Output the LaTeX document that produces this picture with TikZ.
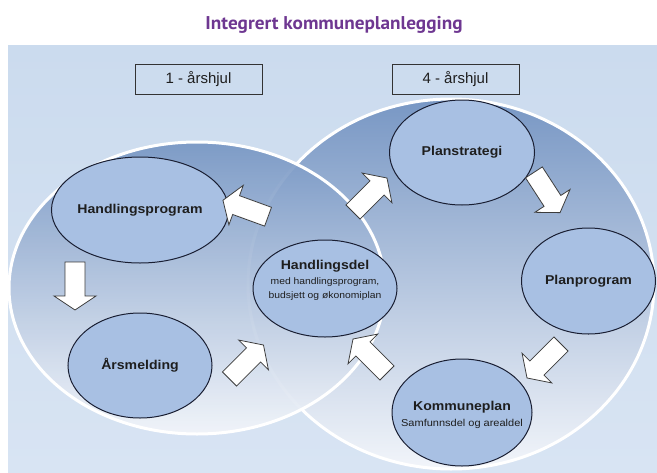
\documentclass[tikz,border=0pt]{standalone}
\usepackage{fontspec}
\setmainfont{Liberation Sans}
\newfontfamily\lblfont[FakeStretch=1.1]{Liberation Sans}
\newfontfamily\ttlfont[FakeStretch=1.04]{PT Sans}
\usetikzlibrary{shapes.geometric}
\definecolor{bgtop}{RGB}{203,219,238}
\definecolor{bgbot}{RGB}{216,228,243}
\definecolor{ctop}{RGB}{120,151,196}
\definecolor{cmid}{RGB}{165,189,222}
\definecolor{cbot}{RGB}{242,245,250}
\definecolor{ellfill}{RGB}{168,192,227}
\definecolor{ellline}{RGB}{25,30,50}
\definecolor{arrline}{RGB}{60,60,60}
\definecolor{ttlcol}{RGB}{110,55,145}
\definecolor{txtcol}{RGB}{30,30,30}
\tikzset{
  small ell/.style={ellipse, draw=ellline, line width=1pt, fill=ellfill, inner sep=0pt, text=txtcol, align=center},
  yearbox/.style={draw=black!80, line width=1pt, minimum width=127pt, minimum height=30pt, inner sep=0pt, text=txtcol, font=\fontsize{15}{17}\selectfont},
  boldlbl/.style={font=\lblfont\bfseries\fontsize{12.8}{15}\selectfont},
  thinlbl/.style={font=\lblfont\fontsize{9.4}{11}\selectfont, text=txtcol, inner sep=0pt},
  rim/.style={draw=white, line width=3pt},
  arrline/.style={draw=arrline, fill=white, line width=0.8pt, line join=miter},
  barrow/.pic={\path[arrline] (-24,-10) -- (10,-10) -- (10,-21) -- (24,0) -- (10,21) -- (10,10) -- (-24,10) -- cycle;}
}
\begin{document}
\begin{tikzpicture}[x=1pt,y=-1pt]
\useasboundingbox (0,0) rectangle (657,472);
% panel
\coordinate (p1) at (8,45);
\coordinate (p2) at (657,472);
\shade[top color=bgtop, bottom color=bgbot] (p1) rectangle (p2);
% title
\node[anchor=base, text=ttlcol, inner sep=0pt, font=\ttlfont\bfseries\fontsize{18.5}{20}\selectfont] (title) at (334,29) {Integrert kommuneplanlegging};
% big circles
\coordinate (R) at (451,284);
\coordinate (L) at (197,288);
\shade[top color=ctop, middle color=cmid, bottom color=cbot] (R) ellipse [x radius=203pt, y radius=185pt];
\path[rim] (R) ellipse [x radius=203pt, y radius=185pt];
\shade[top color=ctop, middle color=cmid, bottom color=cbot, fill opacity=0.93] (L) ellipse [x radius=188pt, y radius=146pt];
\path[rim] (L) ellipse [x radius=188pt, y radius=146pt];
% year boxes
\node[yearbox] (b1) at (198.5,79) {1 - årshjul};
\node[yearbox] (b4) at (455.5,79) {4 - årshjul};
% small ellipses
\node[small ell, minimum width=145pt, minimum height=106pt, boldlbl] (hprog) at (140,210) {Handlingsprogram};
\node[small ell, minimum width=144pt, minimum height=105pt, boldlbl] (aars) at (140,365.5) {Årsmelding};
\node[small ell, minimum width=144pt, minimum height=97pt] (hdel) at (325,288.5) {};
\node[anchor=base, boldlbl, text=txtcol, inner sep=0pt] (hdel1) at (325,269) {Handlingsdel};
\node[anchor=base, thinlbl] (hdel2) at (325,284.5) {med handlingsprogram,};
\node[anchor=base, thinlbl] (hdel3) at (325,298) {budsjett og økonomiplan};
\node[small ell, minimum width=145pt, minimum height=105pt, boldlbl] (pstrat) at (462,152.5) {Planstrategi};
\node[small ell, minimum width=134pt, minimum height=106pt, boldlbl] (pprog) at (588.5,281) {Planprogram};
\node[small ell, minimum width=140pt, minimum height=107pt] (kplan) at (462,412.5) {};
\node[anchor=base, boldlbl, text=txtcol, inner sep=0pt] (kplan1) at (462,410) {Kommuneplan};
\node[anchor=base, font=\lblfont\fontsize{10}{12}\selectfont, text=txtcol, inner sep=0pt] (kplan2) at (462,426) {Samfunnsdel og arealdel};
% block arrows
\coordinate (a1) at (245.5,208.5);
\coordinate (a2) at (75,286);
\coordinate (a3) at (246.5,362);
\coordinate (a4) at (370,195);
\coordinate (a5) at (547,192.5);
\coordinate (a6) at (544,361);
\coordinate (a7) at (370,356);
\pic[rotate=160] at (a1) {barrow};
\pic[rotate=-90] at (a2) {barrow};
\pic[rotate=45] at (a3) {barrow};
\pic[rotate=45] at (a4) {barrow};
\pic[rotate=-57] at (a5) {barrow};
\pic[rotate=-135] at (a6) {barrow};
\pic[rotate=135] at (a7) {barrow};
\end{tikzpicture}
\end{document}
